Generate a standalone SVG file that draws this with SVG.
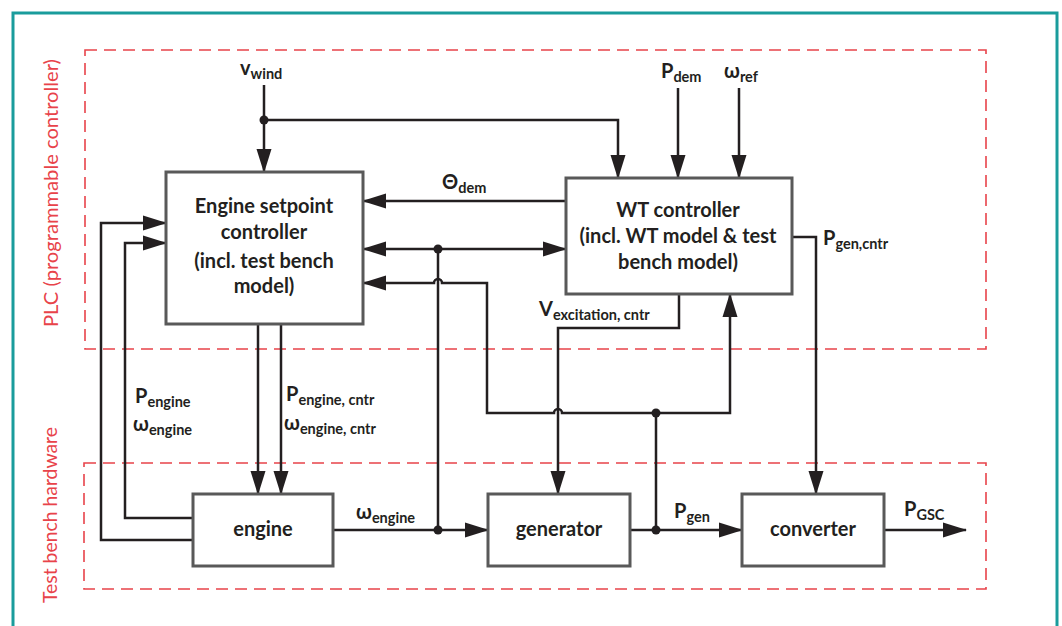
<svg xmlns="http://www.w3.org/2000/svg" width="1062" height="626" viewBox="0 0 1062 626">
<style>
.ln{fill:none;stroke:#231f20;stroke-width:2.5}
.bx{fill:#fff;stroke:#595959;stroke-width:3}
.dash{fill:none;stroke:#e8434a;stroke-width:1.6;stroke-dasharray:12,7}
.t{font-family:Lato,"Open Sans",sans-serif;font-weight:bold;fill:#231f20;font-size:20px}
.bt{font-family:Lato,"Open Sans",sans-serif;font-weight:bold;fill:#231f20;font-size:20px;text-anchor:middle}
.s{font-size:14.5px}
.red{font-family:Lato,"Open Sans",sans-serif;fill:#e8434a;font-size:19.5px;text-anchor:middle}
.dot{fill:#231f20}
</style>
<defs>
<marker id="ar" markerUnits="userSpaceOnUse" markerWidth="24" markerHeight="16" refX="23" refY="7.5" orient="auto-start-reverse" viewBox="0 0 24 15">
<path d="M0,0 L24,7.5 L0,15 z" fill="#231f20"/>
</marker>
</defs>
<rect x="0" y="0" width="1062" height="626" fill="#fff"/>
<rect x="13" y="13" width="1044" height="640" fill="none" stroke="#1a9c9c" stroke-width="3"/>
<g id="plc-region">
<rect class="dash" x="85" y="50" width="901" height="299"/>
<text class="red" transform="translate(58,193) rotate(-90)" textLength="268" lengthAdjust="spacingAndGlyphs">PLC (programmable controller)</text>
</g>
<g id="hardware-region">
<rect class="dash" x="84" y="463" width="902" height="126"/>
<text class="red" transform="translate(57,515) rotate(-90)" textLength="176" lengthAdjust="spacingAndGlyphs">Test bench hardware</text>
</g>
<g id="connectors">
<path class="ln" d="M264,85 V172" marker-end="url(#ar)"/>
<path class="ln" d="M264,120 H618 V178" marker-end="url(#ar)"/>
<path class="ln" d="M678,88 V178" marker-end="url(#ar)"/>
<path class="ln" d="M739,88 V178" marker-end="url(#ar)"/>
<path class="ln" d="M566,201 H363" marker-end="url(#ar)"/>
<path class="ln" d="M363,249 H566" marker-start="url(#ar)" marker-end="url(#ar)"/>
<path class="ln" d="M438,249 V530"/>
<path class="ln" d="M656,530 V413 H562 a4,4 0 0 0 -8,0 H487 V283 H442 a4,4 0 0 0 -8,0 H363" marker-end="url(#ar)"/>
<path class="ln" d="M656,413 H730 V294" marker-end="url(#ar)"/>
<path class="ln" d="M679,294 V328 H558 V494" marker-end="url(#ar)"/>
<path class="ln" d="M792,237 H816 V494" marker-end="url(#ar)"/>
<path class="ln" d="M193,540 H101 V223 H166" marker-end="url(#ar)"/>
<path class="ln" d="M193,518 H125 V243 H166" marker-end="url(#ar)"/>
<path class="ln" d="M258,324 V494" marker-end="url(#ar)"/>
<path class="ln" d="M281,324 V494" marker-end="url(#ar)"/>
<path class="ln" d="M333,530 H488" marker-end="url(#ar)"/>
<path class="ln" d="M630,530 H742" marker-end="url(#ar)"/>
<path class="ln" d="M884,530 H966" marker-end="url(#ar)"/>
<circle class="dot" cx="264" cy="120" r="4.5"/>
<circle class="dot" cx="438" cy="249" r="4.5"/>
<circle class="dot" cx="438" cy="530" r="4.5"/>
<circle class="dot" cx="656" cy="413" r="4.5"/>
<circle class="dot" cx="656" cy="530" r="4.5"/>
<text class="t" x="240" y="75">v<tspan class="s" dy="4">wind</tspan></text>
<text class="t" x="661" y="78">P<tspan class="s" dy="4">dem</tspan></text>
<text class="t" x="724" y="78">ω<tspan class="s" dy="4">ref</tspan></text>
<text class="t" x="442" y="189">Θ<tspan class="s" dy="4">dem</tspan></text>
<text class="t" x="823" y="245">P<tspan class="s" dy="4">gen,cntr</tspan></text>
<text class="t" x="539" y="316">V<tspan class="s" dy="4">excitation, cntr</tspan></text>
<text class="t" x="135" y="403">P<tspan class="s" dy="4">engine</tspan></text>
<text class="t" x="133" y="431">ω<tspan class="s" dy="4">engine</tspan></text>
<text class="t" x="286" y="401">P<tspan class="s" dy="4">engine, cntr</tspan></text>
<text class="t" x="284" y="430">ω<tspan class="s" dy="4">engine, cntr</tspan></text>
<text class="t" x="356" y="519">ω<tspan class="s" dy="4">engine</tspan></text>
<text class="t" x="674" y="518">P<tspan class="s" dy="4">gen</tspan></text>
<text class="t" x="904" y="516">P<tspan class="s" dy="4">GSC</tspan></text>
</g>
<g id="engine-setpoint-controller">
<rect class="bx" x="166" y="172" width="197" height="152"/>
<text class="bt" x="264" y="213">Engine setpoint</text>
<text class="bt" x="264" y="239">controller</text>
<text class="bt" x="264" y="268">(incl. test bench</text>
<text class="bt" x="264" y="293">model)</text>
</g>
<g id="wt-controller">
<rect class="bx" x="566" y="178" width="226" height="116"/>
<text class="bt" x="678" y="217">WT controller</text>
<text class="bt" x="678" y="243">(incl. WT model &amp; test</text>
<text class="bt" x="678" y="269">bench model)</text>
</g>
<g id="engine">
<rect class="bx" x="193" y="494" width="140" height="72"/>
<text class="bt" x="263" y="536">engine</text>
</g>
<g id="generator">
<rect class="bx" x="488" y="494" width="142" height="72"/>
<text class="bt" x="559" y="536">generator</text>
</g>
<g id="converter">
<rect class="bx" x="742" y="494" width="142" height="72"/>
<text class="bt" x="813" y="536">converter</text>
</g>
</svg>
